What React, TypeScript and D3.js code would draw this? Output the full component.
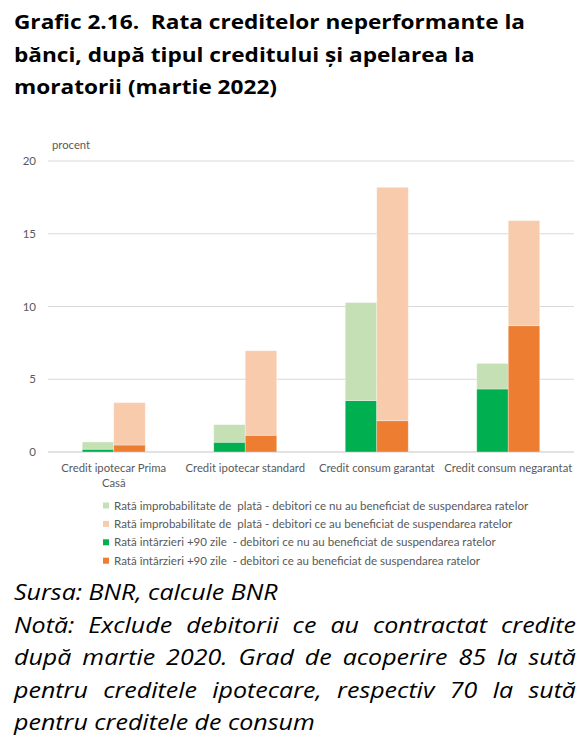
import React, { useLayoutEffect, useRef, useState } from "react";
import * as d3 from "d3";

const categories = [
  ["Credit ipotecar Prima", "Casă"],
  ["Credit ipotecar standard"],
  ["Credit consum garantat"],
  ["Credit consum negarantat"],
];
const categoryKeys = ["c1", "c2", "c3", "c4"];

// stacked segments (percent)
const darkGreen = [0.19, 0.67, 3.53, 4.33]; // Rată întârzieri +90 zile - nu au beneficiat
const lightGreen = [0.5, 1.21, 6.74, 1.76]; // Rată improbabilitate de plată - nu au beneficiat
const orange = [0.48, 1.15, 2.15, 8.68]; // Rată întârzieri +90 zile - au beneficiat
const peach = [2.91, 5.81, 16.04, 7.22]; // Rată improbabilitate de plată - au beneficiat

const yTicks = [0, 5, 10, 15, 20];

const legendItems = [
  { label: "Rată improbabilitate de  plată - debitori ce nu au beneficiat de suspendarea ratelor", color: "#C5E0B4" },
  { label: "Rată improbabilitate de  plată - debitori ce au beneficiat de suspendarea ratelor", color: "#F8CBAD" },
  { label: "Rată intârzieri +90 zile  - debitori ce nu au beneficiat de suspendarea ratelor", color: "#00B050" },
  { label: "Rată întârzieri +90 zile  - debitori ce au beneficiat de suspendarea ratelor", color: "#ED7D31" },
];

const titleLines = [
  "Grafic 2.16.  Rata creditelor neperformante la",
  "bănci, după tipul creditului și apelarea la",
  "moratorii (martie 2022)",
];

const noteLines = [
  { text: "Sursa: BNR, calcule BNR", justify: false },
  { text: "Notă: Exclude debitorii ce au contractat credite", justify: true },
  { text: "după martie 2020. Grad de acoperire 85 la sută", justify: true },
  { text: "pentru creditele ipotecare, respectiv 70 la sută", justify: true },
  { text: "pentru creditele de consum", justify: false },
];

const FONT = "Lato, 'Open Sans', sans-serif";
const FONT2 = "'Open Sans', Lato, sans-serif";

function JustifiedLine({ x, y, width, text, justify, style, sx }: any) {
  const ref = useRef<SVGTextElement>(null);
  const [ws, setWs] = useState(0);
  useLayoutEffect(() => {
    if (!justify || !ref.current) return;
    const len = ref.current.getComputedTextLength();
    const spaces = (text.match(/ /g) || []).length;
    if (spaces > 0) setWs((width / sx - len) / spaces);
  }, [text, width, justify, sx]);
  return (
    <text
      ref={ref}
      transform={`translate(${x},${y}) scale(${sx},1)`}
      style={{ ...style, wordSpacing: justify ? ws : 0, whiteSpace: "pre" }}
    >
      {text}
    </text>
  );
}

export default function App() {
  const W = 585;
  const H = 753;
  const x0 = d3
    .scaleBand<string>()
    .domain(categoryKeys)
    .range([48, 574])
    .paddingInner(0.521)
    .paddingOuter(0.2605);
  const x1 = d3.scaleBand<string>().domain(["g", "o"]).range([0, x0.bandwidth()]).padding(0);
  const y = d3.scaleLinear().domain([0, 20]).range([452, 161]);

  const stackG = d3.stack<number>().keys(["0", "1"]).value((i, k) => (k === "0" ? darkGreen[i] : lightGreen[i]));
  const stackO = d3.stack<number>().keys(["0", "1"]).value((i, k) => (k === "0" ? orange[i] : peach[i]));
  const idx = d3.range(categoryKeys.length);
  const seriesG = stackG(idx);
  const seriesO = stackO(idx);
  const colorsG = ["#00B050", "#C5E0B4"];
  const colorsO = ["#ED7D31", "#F8CBAD"];

  const grey = "#595959";

  return (
    <svg width={W} height={H} style={{ position: "absolute", left: 0, top: 0, background: "#fff" }}>
      <rect width={W} height={H} fill="#fff" />
      {titleLines.map((t, i) => (
        <text
          key={i}
          transform={`translate(14,${29 + i * 32.5}) scale(1.16,1)`}
          style={{ fontFamily: FONT2, fontWeight: 700, fontSize: 19.5, fill: "#000", whiteSpace: "pre" }}
        >
          {t}
        </text>
      ))}

      {/* gridlines */}
      {yTicks.map((t) => (
        <g key={t}>
          <line x1={48} x2={574} y1={y(t)} y2={y(t)} stroke="#D9D9D9" strokeWidth={t === 0 ? 1.5 : 1} />
          <text x={36} y={y(t) + 4} textAnchor="end" style={{ fontFamily: FONT, fontSize: 11.5, fill: grey }}>
            {t}
          </text>
        </g>
      ))}
      <text x={52} y={149} style={{ fontFamily: FONT, fontSize: 11.3, fill: grey }}>
        procent
      </text>

      {/* bars */}
      {seriesG.map((s, si) =>
        s.map((d, i) => (
          <rect
            key={`g${si}${i}`}
            x={(x0(categoryKeys[i]) as number) + (x1("g") as number)}
            y={y(d[1])}
            width={x1.bandwidth()}
            height={y(d[0]) - y(d[1])}
            fill={colorsG[si]}
            stroke="#ffffff"
            strokeOpacity={0.4}
            strokeWidth={0.8}
          />
        ))
      )}
      {seriesO.map((s, si) =>
        s.map((d, i) => (
          <rect
            key={`o${si}${i}`}
            x={(x0(categoryKeys[i]) as number) + (x1("o") as number)}
            y={y(d[1])}
            width={x1.bandwidth()}
            height={y(d[0]) - y(d[1])}
            fill={colorsO[si]}
            stroke="#ffffff"
            strokeOpacity={0.4}
            strokeWidth={0.8}
          />
        ))
      )}

      {/* category labels */}
      {categories.map((lines, i) => (
        <text
          key={i}
          textAnchor="middle"
          style={{ fontFamily: FONT, fontSize: 11.3, fill: grey }}
        >
          {lines.map((l, j) => (
            <tspan key={j} x={(x0(categoryKeys[i]) as number) + x0.bandwidth() / 2} y={472 + j * 14.5}>
              {l}
            </tspan>
          ))}
        </text>
      ))}

      {/* legend */}
      {legendItems.map((it, i) => (
        <g key={i}>
          <rect x={103} y={502.5 + i * 18.4} width={6} height={6} fill={it.color} />
          <text
            x={114}
            y={509.5 + i * 18.4}
            style={{ fontFamily: FONT, fontSize: 11.55, fill: grey, whiteSpace: "pre" }}
          >
            {it.label}
          </text>
        </g>
      ))}

      {/* notes */}
      {noteLines.map((l, i) => (
        <JustifiedLine
          key={i}
          x={14}
          y={600 + i * 32.5}
          width={562}
          sx={1.19}
          text={l.text}
          justify={l.justify}
          style={{ fontFamily: FONT2, fontStyle: "italic", fontSize: 21, fill: "#000" }}
        />
      ))}
    </svg>
  );
}
